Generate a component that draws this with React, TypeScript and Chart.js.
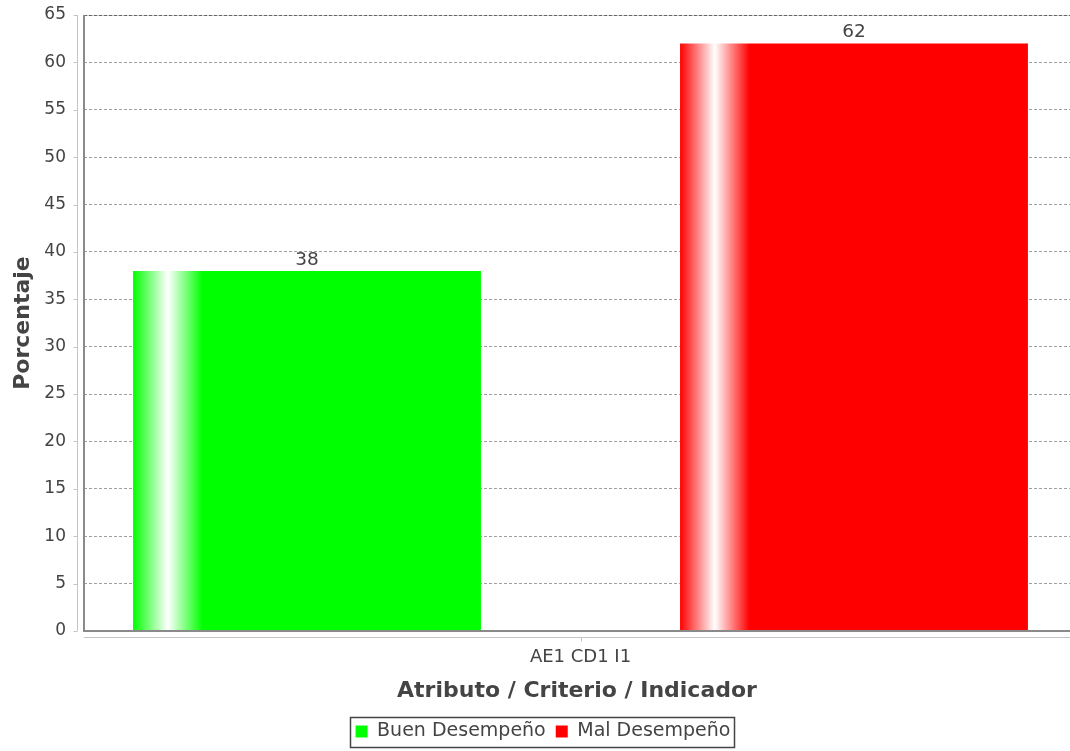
import React, { useEffect, useRef } from "react";
import { Chart, registerables } from "chart.js";

Chart.register(...registerables);

const categories = ["AE1 CD1 I1"];
const seriesNames = ["Buen Desempeño", "Mal Desempeño"];
const seriesColors = ["#00ff00", "#ff0000"];
const buenValues = [38];
const malValues = [62];
const yTickStep = 5;
const yMin = 0;
const yMax = 65;

const TEXT = "#444444";
const FONT = "'DejaVu Sans', sans-serif";
const LEGEND_PAD = 10;

const decorPlugin = {
  id: "decor",
  afterLayout(chart: any) {
    const lg = chart.legend;
    if (lg) {
      lg.left += 8;
      lg.right += 8;
    }
  },
  beforeDatasetsDraw(chart: any) {
    const ctx = chart.ctx;
    chart.data.datasets.forEach((ds: any, di: number) => {
      const meta = chart.getDatasetMeta(di);
      meta.data.forEach((el: any) => {
        const left = el.x - el.width / 2;
        const right = el.x + el.width / 2;
        const g = ctx.createLinearGradient(left, 0, right, 0);
        g.addColorStop(0, ds.baseColor);
        g.addColorStop(0.1, "#ffffff");
        g.addColorStop(0.2, ds.baseColor);
        g.addColorStop(1, ds.baseColor);
        el.options.backgroundColor = g;
      });
    });
  },
  afterDatasetsDraw(chart: any) {
    const ctx = chart.ctx;
    ctx.save();
    ctx.font = `18.5px ${FONT}`;
    ctx.fillStyle = TEXT;
    ctx.textAlign = "center";
    ctx.textBaseline = "alphabetic";
    chart.data.datasets.forEach((ds: any, di: number) => {
      const meta = chart.getDatasetMeta(di);
      meta.data.forEach((el: any, i: number) => {
        ctx.fillText(String(ds.data[i].y), el.x, el.y - 6);
      });
    });
    ctx.restore();
  },
  afterDraw(chart: any) {
    const ctx = chart.ctx;
    const a = chart.chartArea;
    const ys = chart.scales.y;
    const xs = chart.scales.x;
    ctx.save();
    // top edge of plot (darker dashed)
    ctx.strokeStyle = "#c8c8c8";
    ctx.lineWidth = 1;
    ctx.beginPath();
    ctx.moveTo(a.left, Math.round(a.top) + 0.5);
    ctx.lineTo(a.right, Math.round(a.top) + 0.5);
    ctx.stroke();
    ctx.strokeStyle = "#666666";
    ctx.setLineDash([3, 2]);
    ctx.beginPath();
    ctx.moveTo(a.left, Math.round(a.top) + 0.5);
    ctx.lineTo(a.right, Math.round(a.top) + 0.5);
    ctx.stroke();
    ctx.setLineDash([]);
    // plot outline (left & bottom)
    ctx.strokeStyle = "#8a8a8a";
    ctx.lineWidth = 2;
    ctx.beginPath();
    ctx.moveTo(a.left, a.top);
    ctx.lineTo(a.left, a.bottom);
    ctx.lineTo(a.right, a.bottom);
    ctx.stroke();
    // offset axis lines
    ctx.strokeStyle = "#c4c4c4";
    ctx.lineWidth = 1;
    ctx.beginPath();
    const axX = a.left - 6.5;
    ctx.moveTo(axX, a.top);
    ctx.lineTo(axX, a.bottom);
    ys.ticks.forEach((t: any) => {
      const p = Math.round(ys.getPixelForValue(t.value)) + 0.5;
      ctx.moveTo(axX, p);
      ctx.lineTo(axX - 4, p);
    });
    const axY = a.bottom + 6.5;
    ctx.moveTo(a.left, axY);
    ctx.lineTo(a.right, axY);
    xs.ticks.forEach((t: any) => {
      const p = Math.round(xs.getPixelForValue(t.value)) + 0.5;
      ctx.moveTo(p, axY);
      ctx.lineTo(p, axY + 4);
    });
    ctx.stroke();
    // legend border
    const lg = chart.legend;
    if (lg && lg.lineWidths && lg.lineWidths.length) {
      const rowW = lg.lineWidths[0];
      const start = (lg.left + LEGEND_PAD + lg.right - rowW) / 2;
      const end = start + rowW - LEGEND_PAD;
      const cy = lg.top + LEGEND_PAD + 19 / 2;
      ctx.strokeStyle = "#444444";
      ctx.lineWidth = 1.5;
      ctx.strokeRect(Math.round(start - 6) + 0.5, Math.round(cy - 15) + 0.5, Math.round(end - start + 9), 30);
    }
    ctx.restore();
  },
};

export default function App() {
  const ref = useRef<HTMLCanvasElement>(null);
  useEffect(() => {
    if (!ref.current) return;
    const seriesValues = [buenValues, malValues];
    const chart = new Chart(ref.current, {
      type: "bar",
      data: {
        datasets: seriesNames.map((name, si) => ({
          label: name,
          data: seriesValues[si].map((v) => ({ x: si, y: v })),
          backgroundColor: seriesColors[si],
          baseColor: seriesColors[si],
          borderWidth: 0,
          grouped: false,
          categoryPercentage: 1,
          barPercentage: 0.636,
        })) as any,
      },
      options: {
        animation: false,
        responsive: false,
        layout: { padding: { top: 15, left: 0, right: 0, bottom: 0 } },
        font: { family: FONT } as any,
        plugins: {
          tooltip: { enabled: false },
          legend: {
            position: "bottom",
            labels: {
              boxWidth: 12,
              boxHeight: 12,
              padding: LEGEND_PAD,
              color: TEXT,
              font: { family: FONT, size: 19 },
              generateLabels: (c: any) =>
                c.data.datasets.map((ds: any, i: number) => ({
                  text: ds.label,
                  fillStyle: ds.baseColor,
                  strokeStyle: ds.baseColor,
                  lineWidth: 0,
                  hidden: false,
                  datasetIndex: i,
                  fontColor: TEXT,
                })),
            },
          },
        },
        scales: {
          x: {
            type: "linear",
            offset: false,
            min: -0.4077,
            max: 1.3949,
            grid: { display: false, drawTicks: false, offset: false },
            border: { display: false },
            afterBuildTicks: (s: any) => {
              s.ticks = [{ value: 0.5 }];
            },
            afterFit: (s: any) => {
              s.height = 81;
            },
            ticks: {
              color: TEXT,
              padding: 16,
              font: { family: FONT, size: 18 },
              callback: () => categories[0],
            },
            title: {
              display: true,
              text: "Atributo / Criterio / Indicador",
              color: TEXT,
              font: { family: FONT, size: 22, weight: "bold" },
              padding: { top: 0, bottom: 8 },
            },
          },
          y: {
            min: yMin,
            max: yMax,
            afterFit: (s: any) => {
              s.width = 84;
            },
            ticks: {
              stepSize: yTickStep,
              color: TEXT,
              padding: 4,
              font: { family: FONT, size: 17 },
            },
            grid: {
              color: "#a0a0a0",
              lineWidth: 1,
              drawTicks: true,
              tickLength: 14,
              tickColor: "rgba(0,0,0,0)",
            },
            border: { display: false, dash: [3, 2] },
            title: {
              display: true,
              text: "Porcentaje",
              color: TEXT,
              font: { family: FONT, size: 22, weight: "bold" },
              padding: { top: 10, bottom: 0 },
            },
          },
        },
      },
      plugins: [decorPlugin],
    } as any);
    return () => chart.destroy();
  }, []);
  return (
    <div style={{ position: "absolute", left: 0, top: 0, width: 1070, height: 751, background: "#fff" }}>
      <canvas ref={ref} width={1070} height={751} style={{ display: "block" }} />
    </div>
  );
}
